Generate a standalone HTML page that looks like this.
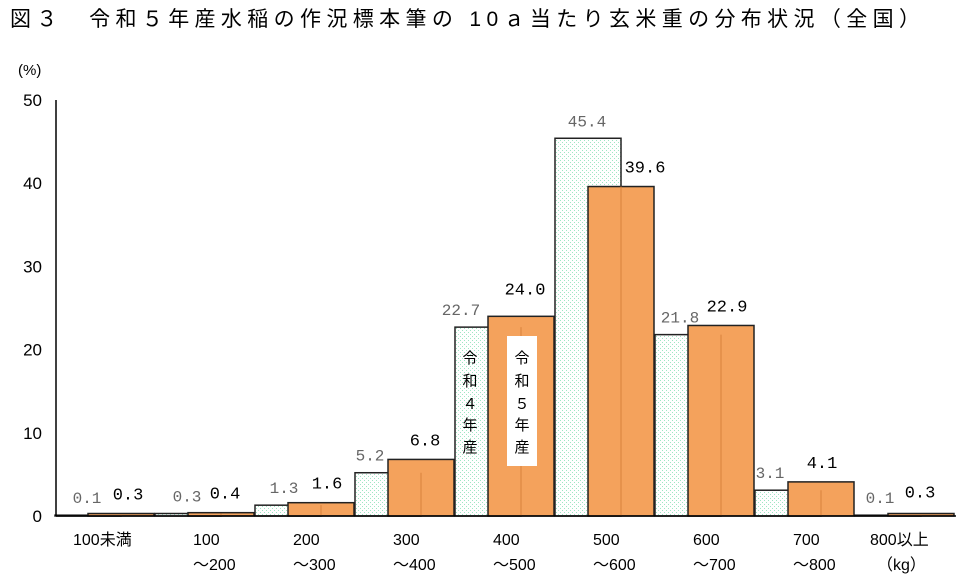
<!DOCTYPE html>
<html><head><meta charset="utf-8">
<style>
html,body{margin:0;padding:0;background:#fff;}
svg{display:block;}
</style></head>
<body>
<svg id="chart" width="960" height="577" viewBox="0 0 960 577" xmlns="http://www.w3.org/2000/svg">
<defs>
<pattern id="dots" width="4" height="4" patternUnits="userSpaceOnUse">
<rect width="4" height="4" fill="#ffffff"/>
<rect x="0" y="0" width="1" height="1" fill="#9fe6c4"/>
<rect x="2" y="2" width="1" height="1" fill="#9fe6c4"/>
</pattern>
</defs>
<text x="10" y="26" textLength="910" lengthAdjust="spacing" font-family="'Liberation Sans','Noto Sans CJK JP',sans-serif" font-size="21" fill="#000">図３　令和５年産水稲の作況標本筆の 10ａ当たり玄米重の分布状況（全国）</text>
<text x="18" y="75" font-family="'Liberation Sans','Noto Sans CJK JP',sans-serif" font-size="15" fill="#000">(%)</text>
<g id="yticks"></g>
<g id="bars"></g>
<g id="labels"></g>
<g id="xlabels"></g>
<line x1="56" y1="100" x2="56" y2="516" stroke="#000" stroke-width="1.5"/>
<line x1="56" y1="516" x2="956" y2="516" stroke="#000" stroke-width="1.5"/>
<g font-family="'Liberation Sans','Noto Sans CJK JP',sans-serif" font-size="15" text-anchor="middle">
<text x="470" y="363">令</text><text x="470" y="386">和</text><text x="470" y="409">４</text><text x="470" y="430">年</text><text x="470" y="452">産</text>
</g>
<rect x="507" y="336" width="30" height="130" fill="#fff"/>
<g font-family="'Liberation Sans','Noto Sans CJK JP',sans-serif" font-size="15" text-anchor="middle">
<text x="522" y="363">令</text><text x="522" y="386">和</text><text x="522" y="409">５</text><text x="522" y="430">年</text><text x="522" y="452">産</text>
</g>
</svg>
<script>
const categories1 = ["100未満","100","200","300","400","500","600","700","800以上"];
const categories2 = ["","～200","～300","～400","～500","～600","～700","～800","（kg）"];
const r4Values = [0.1,0.3,1.3,5.2,22.7,45.4,21.8,3.1,0.1];
const r5Values = [0.3,0.4,1.6,6.8,24.0,39.6,22.9,4.1,0.3];
const r4Labels = ["0.1","0.3","1.3","5.2","22.7","45.4","21.8","3.1","0.1"];
const r5Labels = ["0.3","0.4","1.6","6.8","24.0","39.6","22.9","4.1","0.3"];
const yTicks = [0,10,20,30,40,50];

const NS="http://www.w3.org/2000/svg";
const x0=55, step=100, bw=66, off=33;
const yBase=516, yTop=100, yMax=50;
function y(v){return yBase-(v/yMax)*(yBase-yTop);}
function xGroup(i){return x0+i*step;}
function mk(tag,attrs,parent){const e=document.createElementNS(NS,tag);for(const k in attrs)e.setAttribute(k,attrs[k]);parent.appendChild(e);return e;}
const sans="'Liberation Sans','Noto Sans CJK JP',sans-serif";
const mono="'Liberation Mono',monospace";

const yt=document.getElementById('yticks');
yTicks.forEach(t=>{
  const e=mk('text',{x:42,y:y(t)+6,'text-anchor':'end','font-family':sans,'font-size':17,fill:'#000'},yt);
  e.textContent=t;
  
  
});

const bars=document.getElementById('bars');
const labels=document.getElementById('labels');
const r4Off=[32,32,29,15,6,32,25,15,25];
const r5Off=[73,70,72,70,70,90,72,67,65];
const r5Rise=[14,14,14,14,22,14,14,14,16];
categories1.forEach((c,i)=>{
  const gx=xGroup(i);
  const v4=r4Values[i], v5=r5Values[i];
  const b4=mk('rect',{x:gx,y:y(v4),width:bw,height:yBase-y(v4),fill:'url(#dots)',stroke:'#222','stroke-width':1.5},bars);
  
  
  const b5=mk('rect',{x:gx+off,y:y(v5),width:bw,height:yBase-y(v5),fill:'#f4a25c',stroke:'#222','stroke-width':1.5},bars);
  
  
  const ln=mk('line',{x1:gx+bw,y1:Math.max(y(v4),y(v5)),x2:gx+bw,y2:yBase,stroke:'#d9823c','stroke-width':1},bars);
  
  
  const t4=mk('text',{x:gx+r4Off[i],y:y(v4)-12,'text-anchor':'middle','font-family':mono,'font-size':16,fill:'#666'},labels);
  t4.textContent=r4Labels[i];
  
  
  const t5=mk('text',{x:gx+r5Off[i],y:y(v5)-r5Rise[i],'text-anchor':'middle','font-family':mono,'font-size':17,fill:'#000'},labels);
  t5.textContent=r5Labels[i];
  
  
});

const xl=document.getElementById('xlabels');
categories1.forEach((c,i)=>{
  const gx=xGroup(i);
  const t1=mk('text',{x:gx+(i===0?18:(i===8?15:38)),y:545,'font-family':sans,'font-size':16,fill:'#000'},xl);
  t1.textContent=c;
  
  
  if(categories2[i]){
    const t2=mk('text',{x:gx+(i===8?22:38),y:570,'font-family':sans,'font-size':16,fill:'#000'},xl);
    t2.textContent=categories2[i];
    
    
  }
});
</script>
</body></html>
